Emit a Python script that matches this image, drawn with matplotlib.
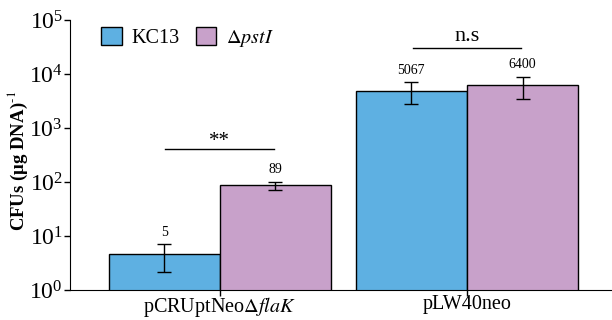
import numpy as np
import matplotlib
matplotlib.use("Agg")
import matplotlib.pyplot as plt
from matplotlib.ticker import LogLocator, NullLocator

plt.rcParams['font.family'] = ['Liberation Serif', 'DejaVu Serif']
plt.rcParams['mathtext.fontset'] = 'stix'

# data
groups = [r'pCRUptNeo$\Delta\mathit{flaK}$', 'pLW40neo']
kc13 = [4.6, 4900]
kc13_lo = [2.15, 2750]
kc13_hi = [7.0, 7100]
pst = [86, 6200]
pst_lo = [71, 3400]
pst_hi = [101, 8900]
kc13_lab = ['5', '5067']
pst_lab = ['89', '6400']

blue = '#5eb0e2'
purple = '#c8a1ca'

fig = plt.figure(figsize=(6.12, 3.2), dpi=100)
ax = fig.add_axes([0.114, 0.094, 0.886, 0.8435])

x = np.arange(len(groups))
w = 0.45
err_k = [np.array(kc13) - np.array(kc13_lo), np.array(kc13_hi) - np.array(kc13)]
err_p = [np.array(pst) - np.array(pst_lo), np.array(pst_hi) - np.array(pst)]
ax.bar(x - w/2, kc13, w, color=blue, edgecolor='black', linewidth=1.0,
       label='KC13', yerr=err_k, capsize=5,
       error_kw=dict(elinewidth=1.0, capthick=1.0, ecolor='black'))
ax.bar(x + w/2, pst, w, color=purple, edgecolor='black', linewidth=1.0,
       label=r'$\Delta\mathit{pstI}$', yerr=err_p, capsize=5,
       error_kw=dict(elinewidth=1.0, capthick=1.0, ecolor='black'))

for i in range(len(groups)):
    ax.text(x[i] - w/2, kc13_hi[i] * 1.25, kc13_lab[i], ha='center', va='bottom', fontsize=10)
    ax.text(x[i] + w/2, pst_hi[i] * 1.25, pst_lab[i], ha='center', va='bottom', fontsize=10)

# significance marks
sig = ['**', 'n.s']
sig_y = [410, 30000]
sig_fs = [15, 16]
sig_off = [0.93, 1.12]
for i in range(len(groups)):
    ax.plot([x[i] - 0.22, x[i] + 0.22], [sig_y[i], sig_y[i]], color='black', lw=1.0)
    ax.text(x[i], sig_y[i] * sig_off[i], sig[i], ha='center', va='bottom', fontsize=sig_fs[i])

ax.set_yscale('log')
ax.set_ylim(1, 1e5)
ax.set_xlim(-0.607, 1.587)
ax.yaxis.set_major_locator(LogLocator(base=10, numticks=10))
ax.yaxis.set_minor_locator(NullLocator())
ax.set_xticks(x)
ax.set_xticklabels(groups, fontsize=14.5)
ax.tick_params(axis='y', labelsize=17, length=4, width=1, pad=1)
ax.tick_params(axis='x', length=4, width=1, pad=0)
ax.spines['top'].set_visible(False)
ax.spines['right'].set_visible(False)
ax.set_ylabel(r'CFUs (μg DNA)$^{\text{-1}}$', fontsize=13.5, fontweight='bold')
ax.yaxis.set_label_coords(-0.074, 0.478)

ax.legend(loc='upper left', bbox_to_anchor=(0.025, 1.04), ncol=2, frameon=False,
          fontsize=14.5, handlelength=1.0, handleheight=1.0, columnspacing=0.8,
          handletextpad=0.5)

fig.savefig('out.png', dpi=100)
